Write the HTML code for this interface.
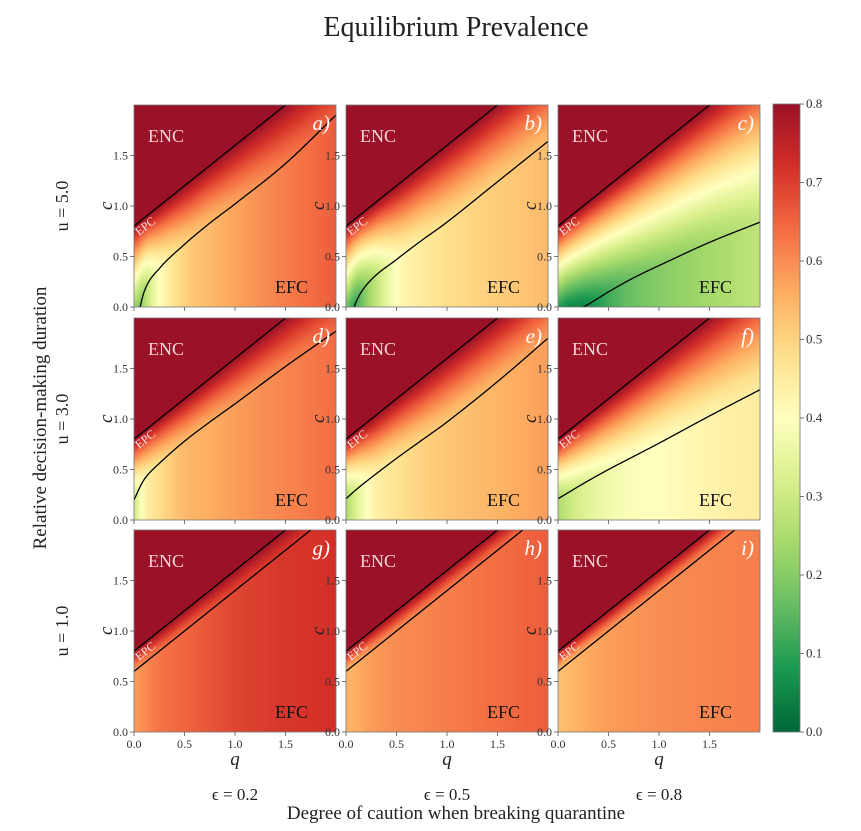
<!DOCTYPE html>
<html><head><meta charset="utf-8"><style>
body{margin:0;background:#fff;width:861px;height:831px;overflow:hidden;position:relative;font-family:"Liberation Serif",serif}
.t{position:absolute;white-space:nowrap;color:#222}
canvas{position:absolute}
svg{position:absolute;left:0;top:0}
</style></head><body>
<div class="t" style="left:0;width:912px;text-align:center;top:12px;font-size:28px">Equilibrium Prevalence</div>
<div id="root"></div>
<svg id="ov" width="861" height="831"></svg>
<script>
const panelLetters=['a','b','c','d','e','f','g','h','i'];
const qGrid=[0,0.1,0.25,0.5,0.75,1,1.5,2];
const lowerA=[-0.3,0.15,0.38,0.62,0.83,1.02,1.42,1.9];
const lowerB=[-0.3,0.05,0.27,0.47,0.66,0.84,1.24,1.64];
const lowerC=[-0.13,-0.05,0,0.15,0.29,0.41,0.64,0.84];
const lowerD=[0.2,0.4,0.56,0.78,0.97,1.15,1.52,1.87];
const lowerE=[0.21,0.3,0.42,0.61,0.79,0.97,1.37,1.8];
const lowerF=[0.21,0.27,0.36,0.5,0.63,0.76,1.03,1.29];
const lowerG=[0.6,0.68,0.8,1.0,1.2,1.4,1.8,2.2];
const lowerH=[0.6,0.68,0.8,1.0,1.2,1.4,1.8,2.2];
const lowerI=[0.6,0.68,0.8,1.0,1.2,1.4,1.8,2.2];
const efcA=[0.1,0.25,0.4,0.5,0.54,0.57,0.62,0.66];
const efcB=[0.03,0.12,0.25,0.4,0.45,0.48,0.51,0.54];
const efcC=[0.03,0.04,0.05,0.12,0.17,0.2,0.24,0.28];
const efcD=[0.3,0.42,0.48,0.54,0.56,0.58,0.61,0.64];
const efcE=[0.25,0.33,0.42,0.47,0.5,0.52,0.55,0.58];
const efcF=[0.25,0.29,0.33,0.37,0.39,0.4,0.43,0.45];
const efcG=[0.58,0.6,0.63,0.65,0.67,0.69,0.71,0.72];
const efcH=[0.55,0.56,0.58,0.6,0.61,0.62,0.64,0.66];
const efcI=[0.53,0.54,0.56,0.58,0.59,0.6,0.61,0.62];
const upperIntercept=0.8, upperSlope=0.8, encValue=0.8;
const rowLabels=['u = 5.0','u = 3.0','u = 1.0'];
const colLabels=['ϵ = 0.2','ϵ = 0.5','ϵ = 0.8'];
const tickVals=[0,0.5,1.0,1.5];
const cbTicks=[0,0.1,0.2,0.3,0.4,0.5,0.6,0.7,0.8];
const cmap=['#006837','#1a9850','#66bd63','#a6d96a','#d9ef8b','#ffffbf','#fee08b','#fdae61','#f46d43','#d32f28','#9b1127'];
const lowers=[lowerA,lowerB,lowerC,lowerD,lowerE,lowerF,lowerG,lowerH,lowerI];
const efcs=[efcA,efcB,efcC,efcD,efcE,efcF,efcG,efcH,efcI];

const colX=[134,346,558], rowY=[105,318,530], W=202, H=202;
const xs=(x0,q)=>x0+q*W/2, ys=(y0,c)=>y0+H-c*H/2;
function slope(arr,i){
  const n=qGrid.length;
  if(i===0)return (arr[1]-arr[0])/(qGrid[1]-qGrid[0]);
  if(i===n-1)return (arr[n-1]-arr[n-2])/(qGrid[n-1]-qGrid[n-2]);
  return (arr[i+1]-arr[i-1])/(qGrid[i+1]-qGrid[i-1]);
}
function interp(arr,q){
  if(q<=qGrid[0])return arr[0];
  for(let i=1;i<qGrid.length;i++){ if(q<=qGrid[i]){
    const h=qGrid[i]-qGrid[i-1],t=(q-qGrid[i-1])/h;
    const m0=slope(arr,i-1)*h,m1=slope(arr,i)*h;
    const t2=t*t,t3=t2*t;
    return (2*t3-3*t2+1)*arr[i-1]+(t3-2*t2+t)*m0+(-2*t3+3*t2)*arr[i]+(t3-t2)*m1;} }
  return arr[arr.length-1];
}
const cmRGB=cmap.map(h=>[parseInt(h.slice(1,3),16),parseInt(h.slice(3,5),16),parseInt(h.slice(5,7),16)]);
function color(v){
  let t=Math.max(0,Math.min(1,v/0.8))*(cmRGB.length-1);
  let i=Math.min(Math.floor(t),cmRGB.length-2),f=t-i;
  return cmRGB[i].map((a,k)=>Math.round(a+(cmRGB[i+1][k]-a)*f));
}
function value(p,q,c){
  const up=upperIntercept+upperSlope*q;
  if(c>=up)return encValue;
  const lo=interp(lowers[p],q), e=interp(efcs[p],q);
  if(c<=lo)return e;
  const f=(c-lo)/(up-lo);
  return e+(encValue-e)*Math.pow(f,1.3);
}
const root=document.getElementById('root');
const ov=document.getElementById('ov');
const NS='http://www.w3.org/2000/svg';
function stext(x,y,s,attrs,name){
  const t=document.createElementNS(NS,'text');
  t.setAttribute('x',x);t.setAttribute('y',y);
  for(const k in attrs)t.setAttribute(k,attrs[k]);
  t.textContent=s;
  
  
  ov.appendChild(t);return t;
}
function line(x1,y1,x2,y2,st,w,name){
  const l=document.createElementNS(NS,'line');
  l.setAttribute('x1',x1);l.setAttribute('y1',y1);l.setAttribute('x2',x2);l.setAttribute('y2',y2);
  l.setAttribute('stroke',st);l.setAttribute('stroke-width',w);
  
  
  ov.appendChild(l);
}
for(let p=0;p<9;p++){
  const r=Math.floor(p/3),cI=p%3,x0=colX[cI],y0=rowY[r];
  const cv=document.createElement('canvas');
  cv.width=W;cv.height=H;cv.style.left=x0+'px';cv.style.top=y0+'px';
  
  
  root.appendChild(cv);
  const ctx=cv.getContext('2d'),img=ctx.createImageData(W,H);
  for(let py=0;py<H;py++)for(let px=0;px<W;px++){
    const q=(px+0.5)*2/W,c=(H-py-0.5)*2/H;
    const col=color(value(p,q,c)),k=(py*W+px)*4;
    img.data[k]=col[0];img.data[k+1]=col[1];img.data[k+2]=col[2];img.data[k+3]=255;
  }
  ctx.putImageData(img,0,0);
  const g=document.createElementNS(NS,'g');
  const cp=document.createElementNS(NS,'clipPath');cp.setAttribute('id','cp'+p);
  const cr=document.createElementNS(NS,'rect');cr.setAttribute('x',x0);cr.setAttribute('y',y0);cr.setAttribute('width',W);cr.setAttribute('height',H);
  cp.appendChild(cr);ov.appendChild(cp);
  g.setAttribute('clip-path','url(#cp'+p+')');
  
  
  ov.appendChild(g);
  let pu='',pl='';
  for(let i=0;i<=200;i++){const q=i*0.01;
    pu+=xs(x0,q)+','+ys(y0,upperIntercept+upperSlope*q)+' ';
    pl+=xs(x0,q)+','+ys(y0,interp(lowers[p],q))+' ';}
  [[pu,'upper-boundary'],[pl,'lower-boundary']].forEach(([pts,n])=>{
    const pl2=document.createElementNS(NS,'polyline');
    pl2.setAttribute('points',pts);pl2.setAttribute('fill','none');pl2.setAttribute('stroke','#000');pl2.setAttribute('stroke-width','1.3');
    
    
    g.appendChild(pl2);
  });
  const fr=document.createElementNS(NS,'rect');
  fr.setAttribute('x',x0);fr.setAttribute('y',y0);fr.setAttribute('width',W);fr.setAttribute('height',H);
  fr.setAttribute('fill','none');fr.setAttribute('stroke','#777');fr.setAttribute('stroke-width','0.8');
  
  
  ov.appendChild(fr);
  stext(x0+14,y0+37,'ENC',{fill:'#f3d6d8','font-size':'18','font-family':'Liberation Serif'},'enc-label');
  stext(x0+141,y0+188,'EFC',{fill:'#111','font-size':'18','font-family':'Liberation Serif'},'efc-label');
  stext(0,0,'EPC',{fill:'#fbe6e6','font-size':'12','font-family':'Liberation Serif',transform:`translate(${x0+5},${y0+131}) rotate(-38)`},'epc-label');
  stext(x0+W-6,y0+25,panelLetters[p]+')',{fill:'#fff','font-size':'21','font-style':'italic','text-anchor':'end','font-family':'Liberation Serif'},'panel-letter');
  tickVals.forEach(v=>{
    const y=ys(y0,v);line(x0-4,y,x0,y,'#555',0.8,'y-tick');
    stext(x0-6,y+4,v.toFixed(1),{fill:'#333','font-size':'12','text-anchor':'end'},'y-tick-label');
    const x=xs(x0,v);line(x,y0+H,x,y0+H+4,'#555',0.8,'x-tick');
    if(r===2)stext(x,y0+H+16,v.toFixed(1),{fill:'#333','font-size':'12','text-anchor':'middle'},'x-tick-label');
  });
  stext(0,0,'c',{fill:'#222','font-size':'19','font-style':'italic',transform:`translate(${x0-22},${y0+H/2+4}) rotate(-90)`},'y-axis-title');
  if(r===2)stext(x0+W/2,y0+H+33,'q',{fill:'#222','font-size':'19','font-style':'italic','text-anchor':'middle'},'x-axis-title');
}
rowLabels.forEach((s,i)=>stext(0,0,s,{fill:'#222','font-size':'18','text-anchor':'middle',transform:`translate(${68},${rowY[i]+H/2}) rotate(-90)`},'row-label'));
colLabels.forEach((s,i)=>stext(colX[i]+W/2,800,s,{fill:'#222','font-size':'17','text-anchor':'middle'},'column-label'));
stext(0,0,'Relative decision-making duration',{fill:'#222','font-size':'19','text-anchor':'middle',transform:`translate(46,418) rotate(-90)`},'left-super-label');
stext(456,819,'Degree of caution when breaking quarantine',{fill:'#222','font-size':'19','text-anchor':'middle'},'bottom-super-label');
const cb=document.createElement('canvas');cb.width=27;cb.height=628;cb.style.left='773px';cb.style.top='104px';


root.appendChild(cb);
const cctx=cb.getContext('2d');
for(let y=0;y<628;y++){const col=color(0.8*(1-(y+0.5)/628));cctx.fillStyle=`rgb(${col})`;cctx.fillRect(0,y,27,1);}
const cfr=document.createElementNS(NS,'rect');cfr.setAttribute('x',773);cfr.setAttribute('y',104);cfr.setAttribute('width',27);cfr.setAttribute('height',628);cfr.setAttribute('fill','none');cfr.setAttribute('stroke','#777');cfr.setAttribute('stroke-width','0.8');


ov.appendChild(cfr);
cbTicks.forEach(v=>{const y=104+628*(1-v/0.8);line(800,y,804,y,'#555',0.8,'colorbar-tick');
  stext(806,y+4,v.toFixed(1),{fill:'#333','font-size':'13'},'colorbar-tick-label');});
</script>
</body></html>
